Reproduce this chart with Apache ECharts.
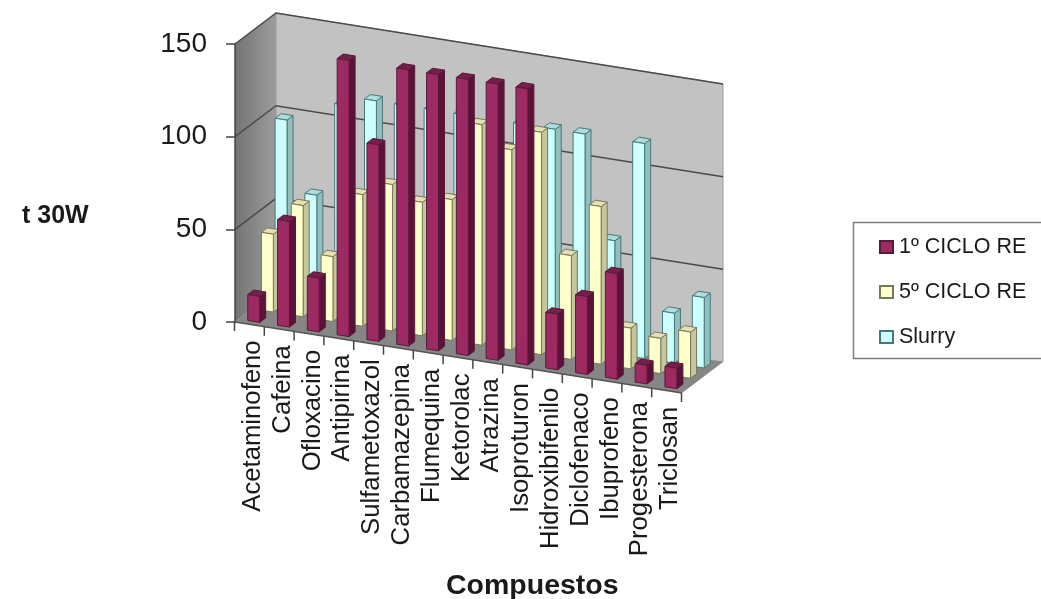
<!DOCTYPE html>
<html>
<head>
<meta charset="utf-8">
<style>html,body{margin:0;padding:0;background:#fff;overflow:hidden}#c{width:1041px;height:599px}</style>
<script src="https://cdn.jsdelivr.net/npm/echarts@6/dist/echarts.min.js"></script>
</head>
<body>
<div id="c"></div>
<script>
const categories = ['Acetaminofeno','Cafeina','Ofloxacino','Antipirina','Sulfametoxazol','Carbamazepina','Flumequina','Ketorolac','Atrazina','Isoproturon','Hidroxibifenilo','Diclofenaco','Ibuprofeno','Progesterona','Triclosan'];
const ciclo1 = [14,57,29,149,106,149,149,149,149,149,30,42,57,10,11];
const ciclo5 = [42,60,35,71,79,72,76,119,108,120,56,85,22,19,25];
const slurry = [98,60,111,116,116,116,116,112,116,116,116,61,116,27,38];
const gridValues = [0,50,100,150];

const DX = 13.67, DY = -10.33, ROWS = 3, SLOPE = 71/447;
function projector(api){
  const band = api.size([1,0])[0];
  return function(c, v, d){
    const p = api.coord([0, v]);
    return [p[0] + (c-0.5)*band + d*DX, p[1] + c*band*SLOPE + d*DY];
  };
}
function poly(points, fill, stroke, width){
  return {type:'polygon', shape:{points}, style:{fill, stroke: stroke||'none', lineWidth: width||0}, silent:true};
}
function barSeries(name, values, row, pal, z){
  return {
    name, type:'custom', z, clip:false, silent:true,
    itemStyle:{color:pal.face, borderColor:pal.line, borderWidth:1.5},
    data: values.map((v,i)=>[i,v]),
    renderItem(params, api){
      const P = projector(api), i = api.value(0), v = api.value(1);
      const c0=i+0.3, c1=i+0.7, d0=row+0.28, d1=row+0.72;
      const a=P(c0,0,d0), b=P(c1,0,d0), e=P(c1,v,d0), f=P(c0,v,d0);
      const g=P(c1,0,d1), h=P(c1,v,d1), k=P(c0,v,d1);
      return {type:'group', children:[
        poly([b,g,h,e], pal.side, pal.line, 1),
        poly([f,e,h,k], pal.top, pal.line, 1),
        poly([a,b,e,f], pal.face, pal.line, 1)
      ]};
    }
  };
}
const palRed = {face:'#9e2a63', side:'#5c1238', top:'#74204a', line:'#571a3a'};
const palYel = {face:'#ffffcc', side:'#c6c69c', top:'#e6dfb4', line:'#77775a'};
const palCya = {face:'#ccffff', side:'#92bebe', top:'#b0dcdc', line:'#457878'};

const option = {
  animation:false,
  backgroundColor:'#fff',
  textStyle:{fontFamily:'Liberation Sans'},
  grid:{left:235, top:44, width:447, height:278},
  xAxis:{type:'category', data:categories, axisLabel:{show:false}, axisTick:{show:false}, axisLine:{show:false}, splitLine:{show:false}},
  yAxis:{type:'value', min:0, max:150, interval:50, z:10,
    axisLine:{show:true, lineStyle:{color:'#444', width:1.5}},
    axisTick:{show:true, length:9, lineStyle:{color:'#444', width:1.5}},
    axisLabel:{fontSize:28, color:'#1a1a1a', margin:28, padding:[3,0,0,0], fontFamily:'Liberation Sans'},
    splitLine:{show:false}},
  title:[
    {text:'t 30W', left:22, top:204, textStyle:{fontSize:25, fontWeight:'bold', color:'#1a1a1a', fontFamily:'Liberation Sans'}, padding:0},
    {text:'Compuestos', left:446, top:572, textStyle:{fontSize:28.5, fontWeight:'bold', color:'#1a1a1a', fontFamily:'Liberation Sans'}, padding:0}
  ],
  legend:{
    orient:'vertical', left:879, top:236, padding:0, itemWidth:13, itemHeight:12, itemGap:23,
    data:['1º CICLO RE','5º CICLO RE','Slurry'],
    textStyle:{fontSize:21.5, color:'#1a1a1a', fontFamily:'Liberation Sans', padding:[0,0,0,1]},
    selectedMode:false, icon:'rect'
  },
  graphic:[{type:'rect', z:-1, shape:{x:853.5, y:222.5, width:210, height:136}, style:{fill:'#fff', stroke:'#7f7f7f', lineWidth:1.5}}],
  series:[
    {
      name:'walls', type:'custom', z:1, clip:false, silent:true, data:[[0]],
      renderItem(params, api){
        const P = projector(api), n = categories.length, children = [];
        const top = gridValues[gridValues.length-1];
        const wallFill = new echarts.graphic.LinearGradient(0,0,1,0,[{offset:0,color:'#747474'},{offset:1,color:'#9c9c9c'}]);
        children.push(poly([P(0,0,0),P(0,0,ROWS),P(0,top,ROWS),P(0,top,0)], wallFill));
        children.push(poly([P(0,0,ROWS),P(n,0,ROWS),P(n,top,ROWS),P(0,top,ROWS)], '#c2c2c2', '#9a9a9a', 1));
        children.push(poly([P(0,0,0),P(n,0,0),P(n,0,ROWS),P(0,0,ROWS)], '#868686'));
        gridValues.forEach(v=>{
          if(v===0) return;
          children.push({type:'polyline', shape:{points:[P(0,v,0),P(0,v,ROWS),P(n,v,ROWS)]}, style:{stroke:'#4a4a4a', lineWidth:1.5, fill:'none'}, silent:true});
        });
        children.push({type:'polyline', shape:{points:[P(0,0,0),P(n,0,0)]}, style:{stroke:'#555', lineWidth:1.5, fill:'none'}, silent:true});
        for(let c=0;c<=n;c++){
          const a=P(c,0,0);
          children.push({type:'line', shape:{x1:a[0]-0.5,y1:a[1],x2:a[0]-0.5,y2:a[1]+9}, style:{stroke:'#444', lineWidth:1.5}, silent:true});
        }
        return {type:'group', children};
      }
    },
    barSeries('Slurry', slurry, 2, palCya, 3),
    barSeries('5º CICLO RE', ciclo5, 1, palYel, 4),
    barSeries('1º CICLO RE', ciclo1, 0, palRed, 5),
    {
      name:'labels', type:'custom', z:6, clip:false, silent:true,
      data: categories.map((c,i)=>[i]),
      renderItem(params, api){
        const P = projector(api), i = api.value(0), a = P(i+0.5,0,0);
        return {type:'text', x:a[0]+3, y:a[1]+16, rotation:Math.PI/2,
          style:{text:categories[i], fontSize:25.7, fontFamily:'Liberation Sans', fill:'#1a1a1a', align:'right', verticalAlign:'middle'}};
      }
    }
  ]
};
echarts.init(document.getElementById('c'), null, {renderer:'canvas'}).setOption(option);
</script>
</body>
</html>
